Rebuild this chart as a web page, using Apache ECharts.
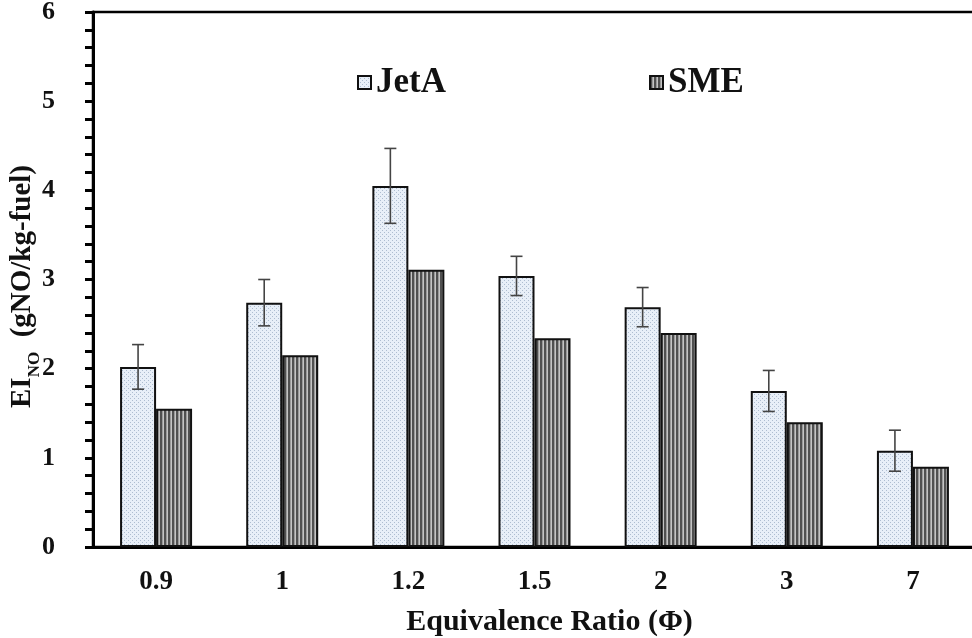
<!DOCTYPE html>
<html>
<head>
<meta charset="utf-8">
<script src="https://cdn.jsdelivr.net/npm/echarts@6/dist/echarts.min.js"></script>
<style>html,body{margin:0;padding:0;background:#fff;}#c{width:972px;height:638px;}</style>
</head>
<body>
<div id="c"></div>
<script>
var categories = ['0.9', '1', '1.2', '1.5', '2', '3', '7'];
var jetA = [2.02, 2.74, 4.05, 3.04, 2.69, 1.75, 1.08];
var jetAErr = [0.25, 0.26, 0.42, 0.22, 0.22, 0.23, 0.23];
var sme = [1.55, 2.15, 3.11, 2.34, 2.40, 1.40, 0.90];
var yTicks = [0, 1, 2, 3, 4, 5, 6];

var FONT = '"Liberation Serif", "Times New Roman", serif';
var BAR_W = 36;

function makePattern(w, h, draw) {
  var c = document.createElement('canvas');
  c.width = w; c.height = h;
  draw(c.getContext('2d'));
  return { image: c, repeat: 'repeat' };
}
var dotPattern = makePattern(4, 4, function (g) {
  g.fillStyle = '#e8eff8'; g.fillRect(0, 0, 4, 4);
  g.fillStyle = '#aebdd0';
  g.fillRect(0, 0, 1, 1); g.fillRect(2, 2, 1, 1);
});
var stripePattern = makePattern(4, 4, function (g) {
  g.fillStyle = '#9a9a9a'; g.fillRect(0, 0, 4, 4);
  g.fillStyle = '#505050'; g.fillRect(0, 0, 1, 4); g.fillRect(1, 0, 1, 4);
  g.fillStyle = '#c4c4c4'; g.fillRect(3, 0, 1, 4);
});

var errData = categories.map(function (c, i) { return [i, jetA[i], jetAErr[i]]; });

var chart = echarts.init(document.getElementById('c'));
chart.setOption({
  animation: false,
  backgroundColor: '#fff',
  grid: { left: 93, top: 12, width: 883, height: 535, outerBoundsMode: 'none', containLabel: false,
          show: true, borderColor: '#000', borderWidth: 2.5, backgroundColor: 'transparent' },
  legend: [
    { data: ['JetA'], left: 352, top: 60, icon: 'rect', itemWidth: 13, itemHeight: 13, itemGap: 12,
      textStyle: { fontFamily: FONT, fontWeight: 'bold', fontSize: 35, color: '#111' } },
    { data: ['SME'], left: 644, top: 60, icon: 'rect', itemWidth: 13, itemHeight: 13, itemGap: 12,
      textStyle: { fontFamily: FONT, fontWeight: 'bold', fontSize: 35, color: '#111' } }
  ],
  xAxis: {
    type: 'category',
    data: categories,
    axisLine: { lineStyle: { color: '#000', width: 3 } },
    axisTick: { show: false },
    axisLabel: { margin: 22, fontFamily: FONT, fontWeight: 'bold', fontSize: 27, color: '#111' },
    name: 'Equivalence Ratio (Φ)',
    nameLocation: 'middle',
    nameGap: 60,
    nameMoveOverlap: false,
    nameTextStyle: { fontFamily: FONT, fontWeight: 'bold', fontSize: 30, color: '#111', padding: [0, 0, 0, 30] }
  },
  yAxis: {
    type: 'value',
    min: yTicks[0], max: yTicks[yTicks.length - 1], interval: 1,
    splitLine: { show: false },
    axisLine: { show: true, lineStyle: { color: '#000', width: 3 } },
    axisTick: { show: true, inside: false, length: 8, lineStyle: { color: '#000', width: 3 } },
    minorTick: { show: true, splitNumber: 5, length: 8, lineStyle: { color: '#000', width: 3 } },
    axisLabel: { margin: 38, fontFamily: FONT, fontWeight: 'bold', fontSize: 26, color: '#111' },
    name: '{a|EI}{s|NO}{a|  (gNO/kg-fuel)}',
    nameLocation: 'middle',
    nameRotate: 90,
    nameGap: 56,
    nameMoveOverlap: false,
    nameTextStyle: {
      padding: [0, 14, 0, 0],
      rich: {
        a: { fontFamily: FONT, fontWeight: 'bold', fontSize: 29, color: '#111', lineHeight: 32, verticalAlign: 'bottom' },
        s: { fontFamily: FONT, fontWeight: 'bold', fontSize: 17, color: '#111', lineHeight: 32, verticalAlign: 'bottom', padding: [0, 0, -6, 0] }
      }
    }
  },
  series: [
    { name: 'JetA', type: 'bar', data: jetA, barWidth: BAR_W, barGap: '0%',
      itemStyle: { color: dotPattern, borderColor: '#111', borderWidth: 2 } },
    { name: 'SME', type: 'bar', data: sme, barWidth: BAR_W, barGap: '0%',
      itemStyle: { color: stripePattern, borderColor: '#111', borderWidth: 2 } },
    { name: 'err', type: 'custom', data: errData, z: 10,
      encode: { x: 0, y: 1 },
      renderItem: function (params, api) {
        var i = api.value(0), v = api.value(1), e = api.value(2);
        var top = api.coord([i, v + e]);
        var bot = api.coord([i, v - e]);
        var x = top[0] - BAR_W / 2;
        var cap = 6;
        var st = { stroke: '#444', lineWidth: 1.6 };
        return { type: 'group', children: [
          { type: 'line', shape: { x1: x, y1: top[1], x2: x, y2: bot[1] }, style: st },
          { type: 'line', shape: { x1: x - cap, y1: top[1], x2: x + cap, y2: top[1] }, style: st },
          { type: 'line', shape: { x1: x - cap, y1: bot[1], x2: x + cap, y2: bot[1] }, style: st }
        ] };
      }
    }
  ]
});
</script>
</body>
</html>
